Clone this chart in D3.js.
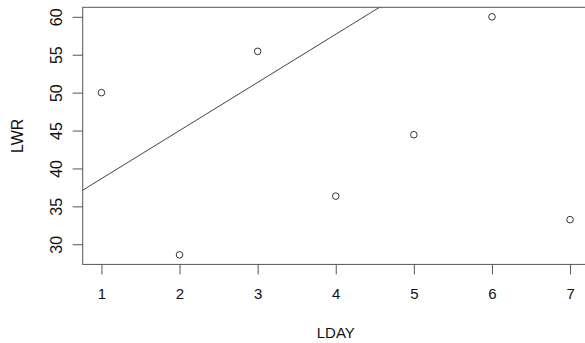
<!DOCTYPE html>
<html>
<head>
<meta charset="utf-8">
<script src="https://cdn.jsdelivr.net/npm/d3@7"></script>
<style>
  body { margin: 0; background: #fff; }
  svg { display: block; font-family: "Liberation Sans", Arial, sans-serif; }
  .axis path, .axis line { stroke: #555; }
</style>
</head>
<body>
<svg id="chart" width="585" height="343"></svg>
<script>
// data
const lday = [1, 2, 3, 4, 5, 6, 7];
const lwr = [50, 28.6, 55.45, 36.35, 44.45, 60, 33.25];
const xTicks = [1, 2, 3, 4, 5, 6, 7];
const yTicks = [30, 35, 40, 45, 50, 55, 60];
// fitted line drawn across the plot (abline)
const fitIntercept = 32.3;
const fitSlope = 6.35;

const svg = d3.select('#chart');
const box = { left: 82.7, top: 7.3, right: 588.8, bottom: 264.4 };

// R style 4% padding of the data range
function padded(ext) {
  const p = (ext[1] - ext[0]) * 0.04;
  return [ext[0] - p, ext[1] + p];
}

const x = d3.scaleLinear().domain(padded(d3.extent(lday))).range([box.left, box.right]);
const y = d3.scaleLinear().domain(padded(d3.extent(lwr))).range([box.bottom, box.top]);

svg.append('clipPath').attr('id', 'plotClip')
  .append('rect')
    .attr('x', box.left).attr('y', box.top)
    .attr('width', box.right - box.left).attr('height', box.bottom - box.top);

// abline
const xd = x.domain();
svg.append('line')
  .attr('clip-path', 'url(#plotClip)')
  .attr('x1', x(xd[0])).attr('y1', y(fitIntercept + fitSlope * xd[0]))
  .attr('x2', x(xd[1])).attr('y2', y(fitIntercept + fitSlope * xd[1]))
  .attr('stroke', '#444').attr('stroke-width', 1);

// points
svg.append('g').selectAll('circle')
  .data(lday.map((d, i) => ({ d, v: lwr[i] })))
  .enter().append('circle')
    .attr('cx', p => x(p.d))
    .attr('cy', p => y(p.v))
    .attr('r', 3.3)
    .attr('fill', 'none')
    .attr('stroke', '#333')
    .attr('stroke-width', 1);

// box
svg.append('rect')
  .attr('x', box.left).attr('y', box.top)
  .attr('width', box.right - box.left).attr('height', box.bottom - box.top)
  .attr('fill', 'none').attr('stroke', '#555').attr('stroke-width', 1);

// axes
const xAxis = svg.append('g')
  .attr('class', 'axis')
  .attr('transform', `translate(0,${box.bottom})`)
  .call(d3.axisBottom(x).tickValues(xTicks).tickSize(10).tickFormat(d3.format('d')));
xAxis.select('.domain').remove();
xAxis.selectAll('text')
  .attr('y', 35).attr('dy', 0)
  .attr('fill', '#111').style('font-size', '15px');

const yAxis = svg.append('g')
  .attr('class', 'axis')
  .attr('transform', `translate(${box.left},0)`)
  .call(d3.axisLeft(y).tickValues(yTicks).tickSize(10).tickFormat(d3.format('d')));
yAxis.select('.domain').remove();
yAxis.selectAll('text')
  .attr('transform', 'rotate(-90)')
  .attr('x', 0).attr('y', -21).attr('dy', 0)
  .attr('text-anchor', 'middle')
  .attr('fill', '#111').style('font-size', '16px');

// axis titles
svg.append('text')
  .attr('x', (box.left + box.right) / 2).attr('y', 337.5)
  .attr('text-anchor', 'middle')
  .attr('fill', '#111').style('font-size', '15px')
  .text('LDAY');

svg.append('text')
  .attr('transform', `translate(23.3,${(box.top + box.bottom) / 2}) rotate(-90)`)
  .attr('text-anchor', 'middle')
  .attr('fill', '#111').style('font-size', '16px')
  .text('LWR');
</script>
</body>
</html>
